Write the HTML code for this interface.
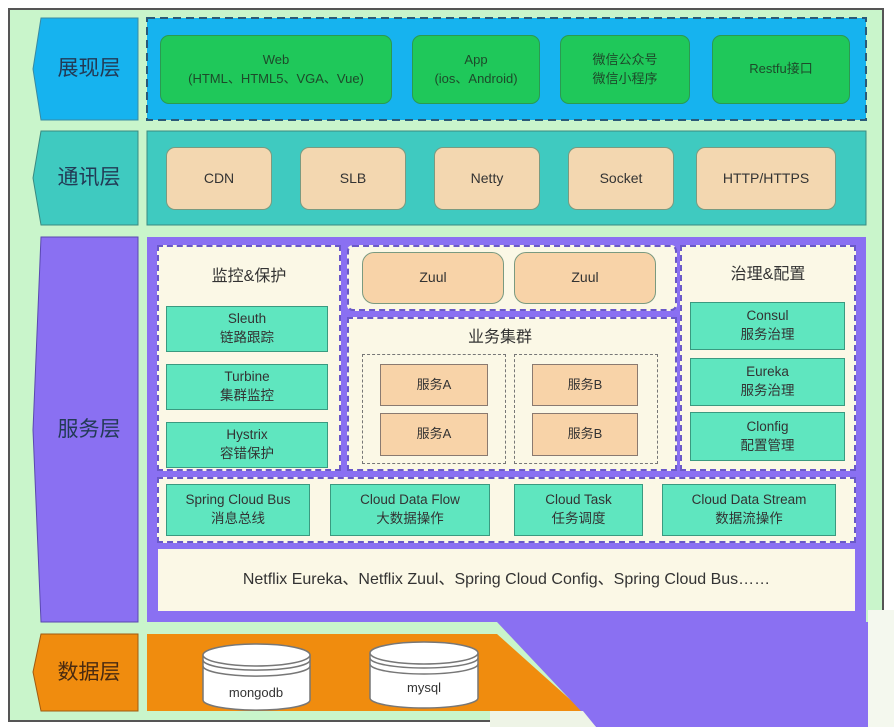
<!DOCTYPE html>
<html><head><meta charset="utf-8"><style>
*{margin:0;padding:0;box-sizing:border-box}
body{width:894px;height:727px;background:#fff;position:relative;overflow:hidden;font-family:"Liberation Sans","Noto Sans CJK SC",sans-serif;color:#333}
div{position:absolute}
.c{display:flex;align-items:center;justify-content:center;text-align:center;flex-direction:column;line-height:1.4}
.g{background:#1fc85a;border:1.5px solid #2a9a50;border-radius:9px;font-size:13px;color:#1d4a2a}
.t{background:#f3d7b0;border:1.5px solid #7a9a80;border-radius:9px;font-size:14px;color:#333}
.m{background:#5fe6bf;border:1.5px solid #3a9a80;font-size:13.5px;color:#333}
.o{background:#f8d3a8;border:1.5px solid #8a7a70;font-size:13px}
.tab{font-size:21px;color:#223a55}
.dash{border:2px dashed #6a58c8;background:#fbf8e6}
</style></head><body>
<div style="left:8px;top:8px;width:876px;height:714px;background:#c9f5cb;border:2px solid #555"></div>
<svg style="position:absolute;left:0;top:0" width="894" height="727">
<polygon points="41,18 138,18 138,120 41,120 33,69" fill="#16b3ef" stroke="#3a8aa0"/>
<polygon points="41,131 138,131 138,225 41,225 33,178" fill="#3fcac0" stroke="#3a8a80"/>
<polygon points="41,237 138,237 138,622 41,622 33,430" fill="#8a70f2" stroke="#5a48b0"/>
<polygon points="41,634 138,634 138,711 41,711 33,672" fill="#f08c0e" stroke="#a05a10"/>
<rect x="147" y="18" width="719" height="102" fill="#16b3ef" stroke="#2a5a78" stroke-width="2" stroke-dasharray="8,5"/>
<rect x="147" y="131" width="719" height="94" fill="#3fcac0" stroke="#3a8a80"/>
<rect x="147" y="237" width="719" height="385" fill="#8a70f2"/>
<polygon points="147,634 497,634 583,711 147,711" fill="#f08c0e"/>
<polygon points="497,622 868,622 868,727 596,727" fill="#8a70f2"/>
<polygon points="490,711 583,711 596,727 490,727" fill="#eef4e6"/>
<rect x="868" y="610" width="26" height="117" fill="#f4f8ee"/>
</svg>
<div class="c tab" style="left:40px;top:18px;width:98px;height:102px">展现层</div>
<div class="c tab" style="left:40px;top:131px;width:98px;height:94px">通讯层</div>
<div class="c tab" style="left:40px;top:237px;width:98px;height:385px">服务层</div>
<div class="c tab" style="left:40px;top:634px;width:98px;height:77px;color:#4a2a10">数据层</div>

<div class="c g" style="left:160px;top:35px;width:232px;height:69px">Web<br>(HTML、HTML5、VGA、Vue)</div>
<div class="c g" style="left:412px;top:35px;width:128px;height:69px">App<br>(ios、Android)</div>
<div class="c g" style="left:560px;top:35px;width:130px;height:69px">微信公众号<br>微信小程序</div>
<div class="c g" style="left:712px;top:35px;width:138px;height:69px">Restfu接口</div>

<div class="c t" style="left:166px;top:147px;width:106px;height:63px">CDN</div>
<div class="c t" style="left:300px;top:147px;width:106px;height:63px">SLB</div>
<div class="c t" style="left:434px;top:147px;width:106px;height:63px">Netty</div>
<div class="c t" style="left:568px;top:147px;width:106px;height:63px">Socket</div>
<div class="c t" style="left:696px;top:147px;width:140px;height:63px">HTTP/HTTPS</div>

<div class="dash" style="left:157px;top:245px;width:184px;height:226px"></div>
<div class="c" style="left:157px;top:262px;width:184px;height:30px;font-size:16px">监控&amp;保护</div>
<div class="c m" style="left:166px;top:306px;width:162px;height:46px">Sleuth<br>链路跟踪</div>
<div class="c m" style="left:166px;top:364px;width:162px;height:46px">Turbine<br>集群监控</div>
<div class="c m" style="left:166px;top:422px;width:162px;height:46px">Hystrix<br>容错保护</div>

<div class="dash" style="left:347px;top:245px;width:330px;height:66px;border-radius:6px"></div>
<div class="c t" style="left:362px;top:252px;width:142px;height:52px;border-radius:12px;background:#f8d3a8">Zuul</div>
<div class="c t" style="left:514px;top:252px;width:142px;height:52px;border-radius:12px;background:#f8d3a8">Zuul</div>

<div class="dash" style="left:347px;top:317px;width:330px;height:154px"></div>
<div class="c" style="left:420px;top:324px;width:160px;height:28px;font-size:16px">业务集群</div>
<div style="left:362px;top:354px;width:144px;height:110px;border:1.5px dashed #777"></div>
<div style="left:514px;top:354px;width:144px;height:110px;border:1.5px dashed #777"></div>
<div class="c o" style="left:380px;top:364px;width:108px;height:42px">服务A</div>
<div class="c o" style="left:380px;top:413px;width:108px;height:43px">服务A</div>
<div class="c o" style="left:532px;top:364px;width:106px;height:42px">服务B</div>
<div class="c o" style="left:532px;top:413px;width:106px;height:43px">服务B</div>

<div class="dash" style="left:680px;top:245px;width:176px;height:226px"></div>
<div class="c" style="left:680px;top:260px;width:176px;height:30px;font-size:16px">治理&amp;配置</div>
<div class="c m" style="left:690px;top:302px;width:155px;height:48px">Consul<br>服务治理</div>
<div class="c m" style="left:690px;top:358px;width:155px;height:48px">Eureka<br>服务治理</div>
<div class="c m" style="left:690px;top:412px;width:155px;height:49px">Clonfig<br>配置管理</div>

<div class="dash" style="left:157px;top:477px;width:699px;height:66px"></div>
<div class="c m" style="left:166px;top:484px;width:144px;height:52px">Spring Cloud Bus<br>消息总线</div>
<div class="c m" style="left:330px;top:484px;width:160px;height:52px">Cloud Data Flow<br>大数据操作</div>
<div class="c m" style="left:514px;top:484px;width:129px;height:52px">Cloud Task<br>任务调度</div>
<div class="c m" style="left:662px;top:484px;width:174px;height:52px">Cloud Data Stream<br>数据流操作</div>

<div class="c" style="left:158px;top:549px;width:697px;height:62px;background:#fbf8e6;font-size:16px;color:#333">Netflix Eureka、Netflix Zuul、Spring Cloud Config、Spring Cloud Bus……</div>

<svg style="position:absolute;left:0;top:0" width="894" height="727">
<g stroke="#777" stroke-width="1.5" fill="#fff">
<path d="M203,655 v45 a53,10 0 0 0 107,0 v-45"/>
<ellipse cx="256.5" cy="655" rx="53.5" ry="11"/>
<path d="M203,660 a53,10 0 0 0 107,0 M203,666 a53,10 0 0 0 107,0" fill="none"/>
<path d="M370,653 v45 a54,10 0 0 0 108,0 v-45"/>
<ellipse cx="424" cy="653" rx="54" ry="11"/>
<path d="M370,658 a54,10 0 0 0 108,0 M370,664 a54,10 0 0 0 108,0" fill="none"/>
</g>
<text x="256" y="697" font-size="13" text-anchor="middle" fill="#333" font-family="Liberation Sans">mongodb</text>
<text x="424" y="692" font-size="13" text-anchor="middle" fill="#333" font-family="Liberation Sans">mysql</text>
</svg>
</body></html>
